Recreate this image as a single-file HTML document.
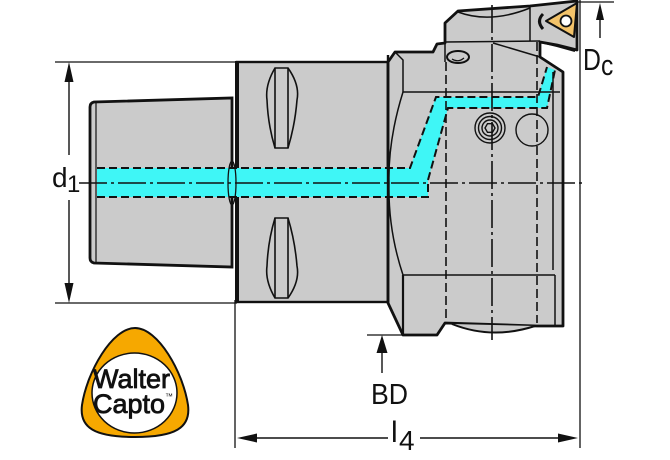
<!DOCTYPE html>
<html><head><meta charset="utf-8"><style>
html,body{margin:0;padding:0;background:#fff;}
svg{display:block;}
text{font-family:"Liberation Sans",sans-serif;fill:#111;}
</style></head><body>
<svg width="670" height="460" viewBox="0 0 670 460" xmlns="http://www.w3.org/2000/svg">
<!-- extension lines -->
<g stroke="#111" stroke-width="1.3" fill="none">
  <line x1="55" y1="62" x2="237" y2="62"/>
  <line x1="55" y1="303" x2="237" y2="303"/>
  <line x1="235" y1="300" x2="235" y2="448"/>
  <line x1="580" y1="0" x2="580" y2="448"/>
  <line x1="577" y1="2" x2="614" y2="2"/>
  <line x1="367" y1="335" x2="403" y2="335"/>
</g>

<!-- shank -->
<path d="M94,102 L232,98 L232,267 L94,263 Q90,262 90,258 L90,107 Q90,103 94,102 Z" fill="#cbcbcb" stroke="#111" stroke-width="2.8"/>
<line x1="96" y1="103" x2="96" y2="262" stroke="#111" stroke-width="1.2"/>

<!-- flange -->
<rect x="237" y="62" width="151" height="240" fill="#cbcbcb" stroke="#111" stroke-width="2.4"/>
<line x1="237" y1="61" x2="237" y2="303" stroke="#111" stroke-width="4"/>

<!-- head -->
<path d="M388,62 L395,52 L433,52 L437,44 L445,43 L445,23 L458,11 L530,6 L577,1 L577,50 L557,45 L540,42 L540,57 L563,72 L563,326 L537,326 L445,323 L437,335 L403,335 L388,303 Z" fill="#cbcbcb" stroke="#111" stroke-width="2.8" stroke-linejoin="round"/>
<path d="M452,324 Q492,340 535,326" fill="#cbcbcb" stroke="#111" stroke-width="2"/>

<!-- cyan coolant channel -->
<path d="M97,168 L410,168 L436,97 L538,97 L547,67 L555,70 L547,108 L448,108 L428,180 L428,197 L97,197 Z" fill="#3ff6f6"/>
<g stroke="#111" stroke-width="2" fill="none" stroke-dasharray="8 4">
  <path d="M97,168 L410,168 L436,97 L538,97 L547,67"/>
  <path d="M97,197 L428,197 L428,180 L448,108 L547,108 L555,70"/>
</g>

<!-- head detail lines -->
<g stroke="#111" stroke-width="1.5" fill="none">
  <path d="M395,52 L403,60 L403,92"/>
  <line x1="403" y1="92" x2="560" y2="92"/>
  <path d="M403,92 Q388,140 389,183 Q388,230 403,275"/>
  <line x1="403" y1="275" x2="555" y2="275"/>
  <line x1="403" y1="275" x2="403" y2="335" stroke-width="2.2"/>
  <line x1="553" y1="72" x2="553" y2="270"/>
  <line x1="555" y1="275" x2="555" y2="326"/>
  <line x1="445" y1="42" x2="540" y2="41"/>
  <line x1="530" y1="7" x2="530" y2="41"/>
  <line x1="493" y1="43" x2="540" y2="57"/>
  <path d="M458,12 Q490,24 530,8"/>
  <line x1="445" y1="43" x2="445" y2="62"/>
  <line x1="388" y1="55" x2="388" y2="303" stroke-width="2.4"/>
</g>

<!-- slots on flange -->
<g fill="#cbcbcb" stroke="#111" stroke-width="1.6">
  <path d="M275,68 L288,68 Q300,85 297,100 Q295,125 288,148 L275,148 Q268,125 267,100 Q265,85 275,68 Z"/>
  <path d="M275,298 L288,298 Q300,281 297,266 Q295,241 288,218 L275,218 Q268,241 267,266 Q265,281 275,298 Z"/>
  <line x1="275" y1="68" x2="275" y2="148"/>
  <line x1="288" y1="68" x2="288" y2="148"/>
  <line x1="275" y1="218" x2="275" y2="298"/>
  <line x1="288" y1="218" x2="288" y2="298"/>
</g>

<!-- junction ellipse -->
<ellipse cx="232" cy="183" rx="4" ry="22" fill="none" stroke="#111" stroke-width="1.3"/>

<!-- hidden & center lines -->
<g stroke="#111" stroke-width="1.6" fill="none">
  <line x1="446" y1="62" x2="446" y2="323" stroke-dasharray="9 4"/>
  <line x1="537" y1="42" x2="537" y2="323" stroke-dasharray="9 4"/>
  <line x1="492" y1="5" x2="492" y2="340" stroke-dasharray="28 4 3 4"/>
  <line x1="79" y1="183" x2="586" y2="183" stroke-dasharray="28 4 3 4"/>
</g>

<!-- screw & hole -->
<g fill="none" stroke="#111" stroke-width="1.4">
  <circle cx="490" cy="128" r="15"/>
  <circle cx="490" cy="128" r="11.5"/>
  <circle cx="490" cy="128" r="8"/>
  <polygon points="495,128 492.5,132.3 487.5,132.3 485,128 487.5,123.7 492.5,123.7"/>
  <circle cx="532" cy="130" r="16"/>
  <ellipse cx="458" cy="57" rx="11" ry="6" stroke-width="2"/>
  <path d="M452,59 Q458,63 464,58" stroke-width="1.2"/>
</g>

<!-- insert -->
<path d="M543,14 Q536,21 543,29" fill="none" stroke="#111" stroke-width="3"/>
<path d="M546,21 L577,3 L574,37 Z" fill="#f3c36a" stroke="#111" stroke-width="2" stroke-linejoin="round"/>
<circle cx="566" cy="21" r="5.5" fill="#fff" stroke="#111" stroke-width="1.8"/>
<path d="M540,42 L557,46 L575,51" fill="none" stroke="#111" stroke-width="2"/>

<!-- dimension d1 -->
<g stroke="#111" stroke-width="1.4">
  <line x1="69" y1="70" x2="69" y2="155"/>
  <line x1="69" y1="200" x2="69" y2="296"/>
</g>
<polygon points="69,62 64.5,82 73.5,82" fill="#111"/>
<polygon points="69,303 64.5,283 73.5,283" fill="#111"/>
<text x="52" y="187" font-size="28">d</text>
<text x="67" y="192" font-size="24">1</text>

<!-- dimension l4 -->
<g stroke="#111" stroke-width="1.4">
  <line x1="245" y1="438" x2="388" y2="438"/>
  <line x1="420" y1="438" x2="570" y2="438"/>
</g>
<polygon points="237,438 257,433.5 257,442.5" fill="#111"/>
<polygon points="578,438 558,433.5 558,442.5" fill="#111"/>
<text x="391" y="442" font-size="30">l</text>
<text x="399" y="450" font-size="28">4</text>

<!-- BD -->
<line x1="382" y1="345" x2="382" y2="373" stroke="#111" stroke-width="1.4"/>
<polygon points="382,335 376.5,353 387.5,353" fill="#111"/>
<text transform="translate(371,404) scale(0.92,1)" font-size="29">BD</text>

<!-- Dc -->
<line x1="600" y1="12" x2="600" y2="38" stroke="#111" stroke-width="1.4"/>
<polygon points="600,3 596,20 604,20" fill="#111"/>
<text transform="translate(583,70) scale(0.8,1)" font-size="31">D</text>
<text transform="translate(601,75) scale(0.85,1)" font-size="29">c</text>

<!-- Walter Capto logo -->
<path d="M135,328 C158,328 183,372 188,405 C191,428 175,437 135,437 C95,437 79,428 82,405 C87,372 112,328 135,328 Z" fill="#f6a800" stroke="#111" stroke-width="2"/>
<ellipse cx="134.5" cy="393" rx="42.5" ry="40" fill="#fff" stroke="#111" stroke-width="1.5"/>
<text x="93" y="388" font-size="27" style="stroke:#111;stroke-width:0.8">Walter</text>
<text x="93" y="413" font-size="27" style="stroke:#111;stroke-width:0.8">Capto</text>
<text x="165" y="399" font-size="8">™</text>
</svg>
</body></html>
